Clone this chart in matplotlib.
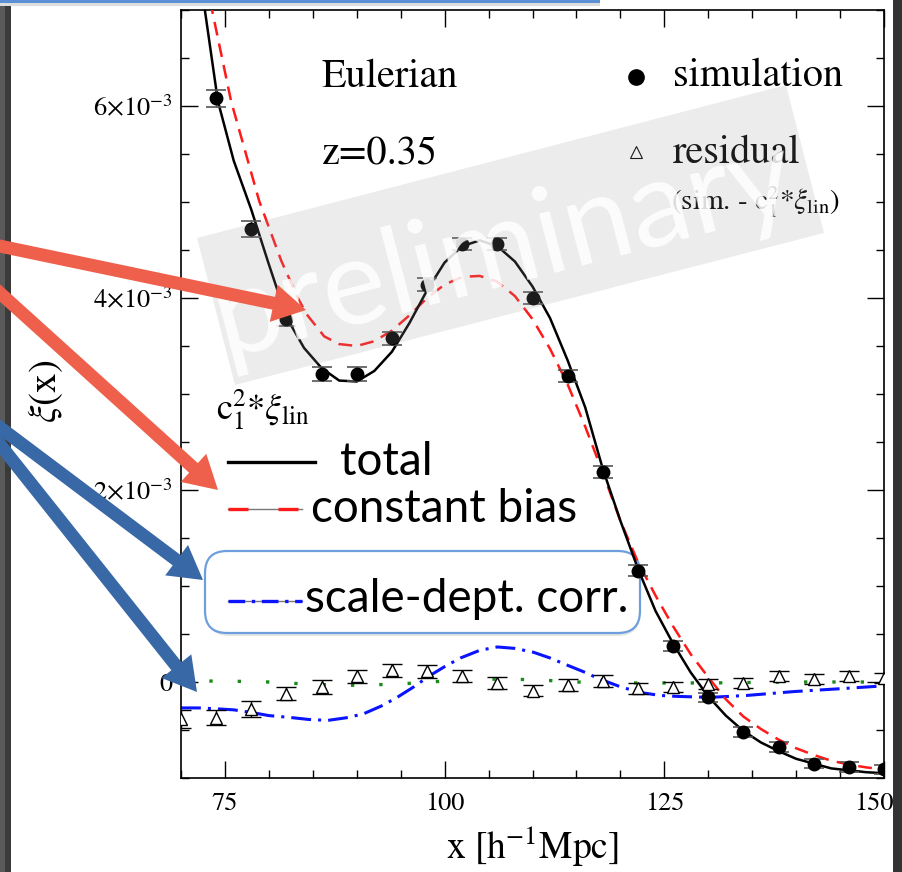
import matplotlib
matplotlib.use('Agg')
import matplotlib.pyplot as plt
from matplotlib.transforms import Affine2D, ScaledTranslation
from matplotlib.patches import Polygon, FancyArrow, FancyBboxPatch, Rectangle
from matplotlib.lines import Line2D
from matplotlib.ticker import MultipleLocator

plt.rcParams['font.family'] = 'STIXGeneral'
plt.rcParams['mathtext.fontset'] = 'stix'

# --- data (xi in units of 1e-3) ---
x_sim = [74, 78, 82, 86, 90, 94, 98, 102, 106, 110, 114, 118, 122, 126, 130, 134, 138, 142, 146, 150]
xi_sim = [6.08, 4.72, 3.78, 3.21, 3.21, 3.58, 4.14, 4.56, 4.56, 4.00, 3.19, 2.19, 1.16, 0.375,
          -0.16, -0.52, -0.68, -0.85, -0.885, -0.91]
err_sim = [0.09, 0.08, 0.07, 0.07, 0.07, 0.07, 0.07, 0.06, 0.06, 0.06, 0.06, 0.06, 0.055, 0.055,
           0.05, 0.05, 0.05, 0.05, 0.05, 0.05]

x_res = [70, 74, 78, 82, 86, 90, 94, 98, 102, 106, 110, 114, 118, 122, 126, 130, 134, 138, 142, 146, 150]
xi_res = [-0.385, -0.37, -0.28, -0.12, -0.05, 0.06, 0.12, 0.11, 0.06, -0.01, -0.09, -0.03, 0.01,
          -0.065, -0.05, -0.02, -0.01, 0.06, 0.03, 0.06, 0.04]
err_res = [0.09, 0.08, 0.08, 0.07, 0.07, 0.07, 0.07, 0.07, 0.06, 0.06, 0.06, 0.06, 0.06, 0.055,
           0.055, 0.05, 0.05, 0.05, 0.05, 0.05, 0.05]

x_total = [72.4, 74.2, 76, 78, 80, 82, 84, 86, 88, 90, 92, 94, 96, 98, 100, 102, 104, 106, 108,
           110, 112, 114, 116, 118, 120, 122, 124, 126, 128, 130, 132, 134, 136, 138, 140, 142,
           144, 146, 148, 150]
xi_total = [7.2, 6.05, 5.43, 4.92, 4.35, 3.8, 3.48, 3.27, 3.14, 3.13, 3.24, 3.44, 3.74, 4.08,
            4.37, 4.54, 4.6, 4.54, 4.38, 4.12, 3.79, 3.35, 2.86, 2.22, 1.68, 1.18, 0.74, 0.4,
            0.1, -0.15, -0.35, -0.51, -0.63, -0.72, -0.8, -0.85, -0.9, -0.92, -0.94, -0.95]

x_const = [73.3, 75.7, 78.9, 81.4, 83.3, 84.3, 86.3, 88, 90, 92, 94, 96, 98, 100, 102, 104, 106,
           108, 110, 112, 114, 116, 118, 120, 122, 124, 126, 128, 130, 132, 134, 136, 138, 140,
           142, 144, 146, 148, 150]
xi_const = [7.1, 6.05, 5.01, 4.39, 4.0, 3.83, 3.6, 3.52, 3.5, 3.55, 3.66, 3.82, 4.0, 4.14, 4.22,
            4.23, 4.17, 4.02, 3.78, 3.47, 3.1, 2.66, 2.18, 1.68, 1.25, 0.9, 0.58, 0.29, 0.05,
            -0.18, -0.36, -0.49, -0.6, -0.69, -0.76, -0.82, -0.86, -0.89, -0.91]

x_scale = [70, 72, 74.2, 76, 78.2, 80, 82.5, 84.5, 86.7, 89, 90.8, 92.8, 94.6, 96.5, 98.2, 100,
           101.8, 104, 106, 108, 110.1, 112, 114.1, 116, 117.4, 120, 122.3, 124.5, 126.5, 130.2,
           134.4, 139.7, 145, 150]
xi_scale = [-0.27, -0.27, -0.28, -0.29, -0.32, -0.35, -0.37, -0.39, -0.40, -0.37, -0.33, -0.25,
            -0.16, -0.05, 0.06, 0.16, 0.25, 0.33, 0.365, 0.35, 0.31, 0.25, 0.17, 0.1, 0.04,
            -0.05, -0.11, -0.14, -0.15, -0.16, -0.14, -0.10, -0.07, -0.04]

x_zero = [70, 75, 80, 85, 90, 95, 100, 105, 110, 115, 120, 125, 130, 135, 140, 145, 150]
xi_zero = [0.01, 0.01, 0.0, -0.025, -0.035, -0.02, 0.01, 0.03, 0.025, 0.0, -0.01, -0.01, -0.01,
           -0.005, 0.0, 0.0, 0.0]

xtick_vals = [75, 100, 125, 150]
xtick_labels = ['75', '100', '125', '150']
ytick_vals = [0, 2, 4, 6]
ytick_labels = ['0', r'$2{\times}10^{-3}$', r'$4{\times}10^{-3}$', r'$6{\times}10^{-3}$']

s = 1e-3
W, H = 903, 872
fig = plt.figure(figsize=(W / 100, H / 100), dpi=100)
fig.patch.set_facecolor('white')
# image-pixel coordinates (origin top-left) for slide decorations
pix = Affine2D().scale(1 / W, -1 / H).translate(0, 1) + fig.transFigure

ax = fig.add_axes([181 / W, 1 - 778 / H, (884 - 181) / W, (778 - 10) / H])
ax.patch.set_visible(False)

ax.plot(x_zero, [v * s for v in xi_zero], color='#1a8a1a', lw=2.4, ls=(0, (1, 7.5)), zorder=1)
ax.plot(x_scale, [v * s for v in xi_scale], color='#0a14ff', lw=2.2, ls=(0, (6.5, 2.3, 1, 2.3)), zorder=2)
ax.plot(x_const, [v * s for v in xi_const], color='#ff1a1a', lw=1.8, ls=(0, (5.5, 3.3)), zorder=3)
ax.plot(x_total, [v * s for v in xi_total], color='black', lw=1.8, zorder=4)
ax.errorbar(x_res, [v * s for v in xi_res], yerr=[v * s for v in err_res], fmt='^', ms=9,
            mfc='white', mec='black', mew=1, ecolor='black', elinewidth=1, capsize=7,
            capthick=1, zorder=5)
ax.errorbar(x_sim, [v * s for v in xi_sim], yerr=[v * s for v in err_sim], fmt='o', ms=9,
            color='black', ecolor='#555555', elinewidth=1, capsize=7, capthick=1.2, zorder=6)

ax.set_xlim(70, 150)
ax.set_ylim(-1e-3, 7e-3)
ax.set_xticks(xtick_vals)
ax.set_xticklabels(xtick_labels)
ax.set_yticks([v * s for v in ytick_vals])
ax.set_yticklabels(ytick_labels)
ax.xaxis.set_minor_locator(MultipleLocator(5))
ax.yaxis.set_minor_locator(MultipleLocator(0.5e-3))
ax.tick_params(which='both', direction='in', top=True, right=True, width=1)
ax.tick_params(which='major', length=12, labelsize=19)
ax.tick_params(which='minor', length=6)
ax.tick_params(axis='x', pad=10)
ax.tick_params(axis='y', pad=6)
# last x label sits a little left so it stays on the slide
last = ax.get_xticklabels()[-1]
last.set_transform(last.get_transform() + ScaledTranslation(-0.1, 0, fig.dpi_scale_trans))
for sp in ax.spines.values():
    sp.set_linewidth(1.2)
ax.set_xlabel('x [h$^{-1}$Mpc]', fontsize=27)
ax.xaxis.set_label_coords(0.5, -0.06)
ax.set_ylabel(r'$\xi$(x)', fontsize=28)
ax.yaxis.set_label_coords(-0.165, 0.503)

# in-plot annotations
fig.text(322, 87, 'Eulerian', transform=pix, fontsize=29, va='baseline', zorder=3)
fig.text(322, 163, 'z=0.35', transform=pix, fontsize=29, va='baseline', zorder=3)
fig.add_artist(Line2D([636], [77], transform=pix, marker='o', ms=11, color='black', zorder=3))
fig.text(673, 86, 'simulation', transform=pix, fontsize=29, va='baseline', zorder=3)
fig.add_artist(Line2D([636], [152], transform=pix, marker='^', ms=8, mfc='white', mec='black',
                      mew=0.8, zorder=3))
fig.text(673, 163, 'residual', transform=pix, fontsize=29, va='baseline', zorder=3)
fig.text(671, 210, r'(sim. - c$_1^2$*$\xi_{\rm lin}$)', transform=pix, fontsize=21,
         va='baseline', zorder=3)
fig.text(216, 420, r'c$_1^2$*$\xi_{\rm lin}$', transform=pix, fontsize=26, va='baseline', zorder=3)

# hand-made legend
sans = 'Lato'
fig.add_artist(Line2D([228, 315], [462, 462], transform=pix, color='black', lw=2.4, zorder=3))
fig.text(340, 475, 'total', transform=pix, fontsize=33, family=sans, va='baseline', zorder=3)
fig.add_artist(Line2D([228, 302], [509, 509], transform=pix, color='#777777', lw=1, zorder=3))
fig.add_artist(Line2D([228, 302], [509, 509], transform=pix, color='#ff1a1a', lw=2.4,
                      ls=(0, (6, 9)), zorder=3))
fig.text(311, 522, 'constant bias', transform=pix, fontsize=33, family=sans, va='baseline', zorder=3)

shadow = FancyBboxPatch((207, 555), 433, 81, boxstyle='round,pad=0,rounding_size=22',
                        transform=pix, fc='#e6e6e6', ec='none', zorder=-2)
fig.add_artist(shadow)
box = FancyBboxPatch((205, 551), 435, 82, boxstyle='round,pad=0,rounding_size=22',
                     transform=pix, fc='white', ec='#6e9fdd', lw=1.6, zorder=-1)
fig.add_artist(box)
fig.add_artist(Line2D([228, 302], [601, 601], transform=pix, color='#777777', lw=1, zorder=3))
fig.add_artist(Line2D([228, 302], [601, 601], transform=pix, color='#0a14ff', lw=2.4,
                      ls=(0, (5, 2, 1, 2)), zorder=3))
fig.text(305, 612, 'scale-dept. corr.', transform=pix, fontsize=33, family=sans,
         va='baseline', zorder=3)

# "preliminary" watermark
band = Polygon([(197, 238), (786, 85), (824, 233), (235, 385)], closed=True, transform=pix,
               fc='#9a9a9a', ec='none', alpha=0.18, zorder=5)
fig.add_artist(band)
fig.text(512, 282, 'preliminary', transform=pix, fontsize=87, family=sans, color='white',
         alpha=0.85, rotation=14.6, rotation_mode='anchor', ha='center', va='baseline', zorder=6)

# slide frame pieces
fig.add_artist(Rectangle((0, 0), 5, H, transform=pix, fc='#5a5a5a', ec='none', zorder=8))
fig.add_artist(Rectangle((5, 0), 6, H, transform=pix, fc='#3a3a3a', ec='none', zorder=8))
fig.add_artist(Rectangle((893, 0), 10, H, transform=pix, fc='#333333', ec='none', zorder=8))
fig.add_artist(Rectangle((0, 2), 600, 4, transform=pix, fc='#dddddd', ec='none', zorder=8))
fig.add_artist(Rectangle((0, 0), 600, 3, transform=pix, fc='#5b8fd6', ec='none', zorder=9))

# arrows
red = '#ee604b'
blue = '#3868a6'
arrows = [((-10, 244), (306, 310), red),
          ((-10, 284), (218, 490), red),
          ((-10, 420), (203, 580), blue),
          ((-10, 432), (197, 692), blue)]
for (x0, y0), (x1, y1), c in arrows:
    fig.add_artist(FancyArrow(x0, y0, x1 - x0, y1 - y0, width=13, head_width=38,
                              head_length=33, length_includes_head=True, transform=pix,
                              fc=c, ec='none', zorder=10))

fig.savefig('out.png', dpi=100)
